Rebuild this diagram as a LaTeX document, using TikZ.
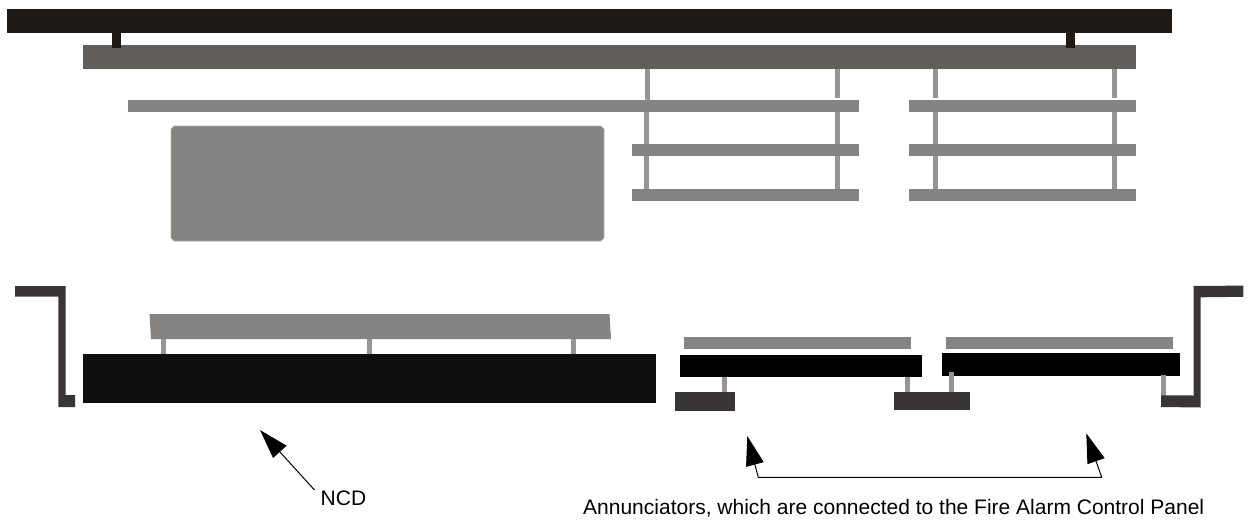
\documentclass[tikz,border=0pt]{standalone}
\usepackage{fontspec}
\setmainfont{Liberation Sans}
\usetikzlibrary{arrows.meta}
\definecolor{cTop}{HTML}{1F1A17}
\definecolor{cBar}{HTML}{625E5C}
\definecolor{cGray}{HTML}{858482}
\definecolor{cStub}{HTML}{969594}
\definecolor{cNear}{HTML}{0F0F0F}
\definecolor{cDark}{HTML}{393536}
\definecolor{cEdge}{HTML}{B4B4B3}
\tikzset{
  toptone/.style={fill=cTop,draw=none},
  bartone/.style={fill=cBar,draw=none},
  graytone/.style={fill=cGray,draw=none},
  stubtone/.style={fill=cStub,draw=none},
  neartone/.style={fill=cNear,draw=none},
  blacktone/.style={fill=black,draw=none},
  darktone/.style={fill=cDark,draw=none},
  bighead/.tip={Triangle[length=29.5pt,width=18pt]},
  pointer/.style={draw=black,line width=1pt,line join=miter},
  lbl/.style={font=\fontsize{21}{25}\selectfont,inner sep=0pt,text=black}
}
\begin{document}
\begin{tikzpicture}[x=1pt,y=-1pt]
\useasboundingbox (0,0) rectangle (1251,520);
% top structure
\fill[toptone] (7,9) rectangle (1172,33);
\fill[bartone] (83,45) rectangle (1136,69);
\fill[toptone] (112,33) rectangle (120.5,47.5);
\fill[toptone] (1066,33) rectangle (1075,47.5);
% shelves
\fill[graytone] (128,100) rectangle (859,112);
\fill[graytone] (632,144) rectangle (859,156);
\fill[graytone] (632,189) rectangle (859,201);
\fill[graytone] (909,100) rectangle (1136,112);
\fill[graytone] (909,144) rectangle (1136,156);
\fill[graytone] (909,189) rectangle (1136,201);
% hanger verticals
\fill[stubtone] (645,69) rectangle (650,101);
\fill[stubtone] (835,69) rectangle (840,98);
\fill[stubtone] (933,69) rectangle (938,98);
\fill[stubtone] (1112,69) rectangle (1117,98);
\foreach \xa/\xb in {644/649,835/840,933/938,1112/1117}{
  \fill[stubtone] (\xa,112) rectangle (\xb,144);
  \fill[stubtone] (\xa,156) rectangle (\xb,189);
}
% large panel
\path[graytone,draw=cEdge,line width=0.7pt] (174,126) -- (601,126) -- (604,129) -- (604,238) -- (601,241) -- (174,241) -- (171,238) -- (171,129) -- cycle;
% left bracket
\fill[darktone] (15,286) -- (65.5,286) -- (65.5,395) -- (75,395) -- (75,407) -- (58.3,407) -- (58.3,296.7) -- (15,296.7) -- cycle;
% NCD unit
\fill[graytone] (149.5,314) -- (609.5,314) -- (611,339) -- (151,339) -- cycle;
\foreach \xa/\xb in {161/166,367/372,571/576}{
  \fill[stubtone] (\xa,339) rectangle (\xb,354);
}
\fill[neartone] (83,354) rectangle (656,403);
% annunciators
\fill[graytone] (684,337) rectangle (911,349);
\fill[graytone] (946,337) rectangle (1173,349);
\fill[stubtone] (722,377) rectangle (727,393);
\fill[stubtone] (905,377) rectangle (910,393);
\fill[blacktone] (680,355) rectangle (922,377);
\fill[blacktone] (942,353) rectangle (1180,376);
\fill[stubtone] (949,372) rectangle (954,393);
\fill[stubtone] (1161,375) rectangle (1166,397);
\fill[darktone] (675,392) rectangle (735,411);
\fill[darktone] (894,392) rectangle (970,410);
% right bracket
\fill[darktone] (1161,395.3) -- (1193.5,395.5) -- (1193.5,286) -- (1243.3,285.6) -- (1243.3,296.8) -- (1200.7,297.3) -- (1200.7,407.5) -- (1161,407) -- cycle;
% labels
\node[lbl,anchor=base west] (ncd) at (320.5,505) {NCD};
\node[lbl,anchor=base west] (ann) at (583,514.3) {Annunciators, which are connected to the Fire Alarm Control Panel};
% pointers
\coordinate (ncdtail) at (314.5,490);
\coordinate (ncdtip) at (260,430);
\draw[pointer,-{bighead}] (ncdtail) -- (ncdtip);
\coordinate (lefttip) at (747.3,436);
\coordinate (righttip) at (1086.3,433.3);
\coordinate (leftfoot) at (758.3,477.3);
\coordinate (rightfoot) at (1101.7,477.3);
\draw[pointer,{bighead}-{bighead}] (lefttip) -- (leftfoot) -- (rightfoot) -- (righttip);
\end{tikzpicture}
\end{document}
